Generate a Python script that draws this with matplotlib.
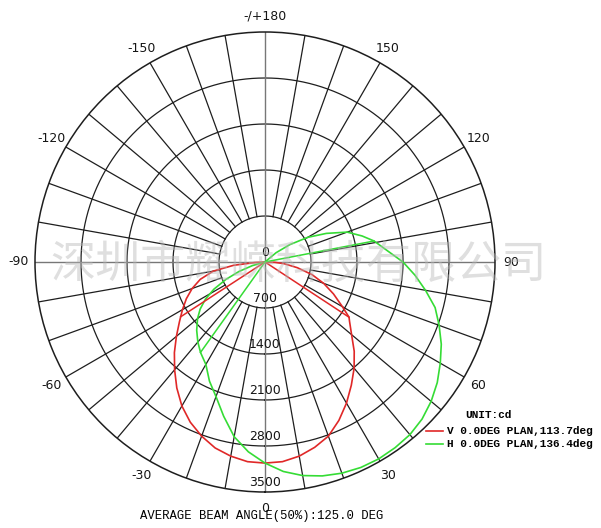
import numpy as np
import matplotlib
matplotlib.use("Agg")
import matplotlib.pyplot as plt
from matplotlib.lines import Line2D

# V plane (red), angle in deg -> intensity in cd
v_angles = [-90, -87, -84, -80, -75, -70, -65, -60, -57, -55, -50, -45, -40, -35, -30, -25, -20,
            -15, -10, -5, 0, 5, 10, 15, 20, 25, 30, 35, 40, 45, 50, 55, 56.7, 60, 65, 70, 75,
            80, 85, 88, 90]
v_values = [0, 150, 480, 800, 1020, 1180, 1320, 1450, 1530, 1590, 1760, 1950, 2140, 2340, 2530,
            2690, 2820, 2930, 3000, 3050, 3060, 3050, 3000, 2920, 2820, 2660, 2480, 2290, 2110,
            1920, 1720, 1570, 1530, 1360, 1150, 950, 740, 500, 290, 150, 0]

# H plane (green)
h_angles = [-78, -74, -70, -66, -62, -58, -54, -50, -45, -40, -35.5, -30, -25, -20, -15, -10, -5,
            0, 5, 10, 15, 20, 25, 30, 35, 40, 45, 50, 55, 60, 65, 70, 75, 80, 85, 90, 95,
            100.9, 105, 110, 115, 120, 125, 130, 135]
h_values = [0, 200, 420, 650, 880, 1070, 1220, 1340, 1470, 1590, 1690, 1800, 2000, 2180, 2430,
            2700, 2900, 3060, 3200, 3300, 3370, 3420, 3450, 3460, 3450, 3430, 3380, 3300, 3200,
            3080, 2960, 2820, 2680, 2480, 2290, 2100, 1880, 1690, 1530, 1330, 1030, 750, 460,
            220, 0]

# 50% beam edges drawn as radial lines
v_edges = [-57, 56.7]
v_edge_vals = [1530, 1530]
h_edges = [-35.5, 100.9]
h_edge_vals = [1690, 1690]

ring_values = [700, 1400, 2100, 2800, 3500]
angle_ticks = [0, 30, 60, 90, 120, 150, 180, -150, -120, -90, -60, -30]
angle_labels = ["0", "30", "60", "90", "120", "150", "-/+180", "-150", "-120", "-90", "-60", "-30"]

legend_rows = ["V 0.0DEG PLAN,113.7deg", "H 0.0DEG PLAN,136.4deg"]
legend_colors = ["#e02828", "#35dc35"]

W, H = 601, 528
cx, cy, R = 265, 262, 230

fig = plt.figure(figsize=(W / 100, H / 100), dpi=100)
ax = fig.add_axes([(cx - R) / W, (H - cy - R) / H, 2 * R / W, 2 * R / H], projection="polar")
ax.set_theta_zero_location("S")
ax.set_theta_direction(1)
ax.set_ylim(0, ring_values[-1])
ax.grid(False)
ax.set_xticks([])
ax.set_yticks([])
ax.spines["polar"].set_color("#1e1e1e")
ax.spines["polar"].set_linewidth(1.1)

grid_c = "#1e1e1e"
tt = np.linspace(0, 2 * np.pi, 721)
for r in ring_values[:-1]:
    ax.plot(tt, np.full_like(tt, r), color=grid_c, lw=0.9, zorder=1)

for a in range(0, 360, 10):
    t = np.radians(a)
    if a % 90 == 0:
        ax.plot([t, t], [0, ring_values[-1]], color="#777777", lw=1.0, zorder=1)
    else:
        ax.plot([t, t], [ring_values[0], ring_values[-1]], color=grid_c, lw=0.9, zorder=1)

# ring labels
ax.text(np.pi, 150, "0", ha="center", va="center", fontsize=9, color="#151515")
for r in ring_values:
    ax.text(0, r - 150, str(r), ha="center", va="center", fontsize=9, color="#151515")

# angle labels
for a, lab in zip(angle_ticks, angle_labels):
    ax.text(np.radians(a), 3745, lab, ha="center", va="center", fontsize=9, color="#151515")

# curves
ax.plot(np.radians(v_angles), v_values, color=legend_colors[0], lw=1.2, zorder=3)
ax.plot(np.radians(h_angles), h_values, color=legend_colors[1], lw=1.2, zorder=3)
for a, v in zip(v_edges, v_edge_vals):
    ax.plot([np.radians(a)] * 2, [0, v], color=legend_colors[0], lw=1.1, zorder=3)
for a, v in zip(h_edges, h_edge_vals):
    ax.plot([np.radians(a)] * 2, [0, v], color=legend_colors[1], lw=1.1, zorder=3)

# watermark
fig.text(299 / W, (H - 265) / H, "深圳市耀嵘科技有限公司", ha="center", va="center",
         fontsize=32.5, color="#b8b8b8", alpha=0.45, family=["Noto Sans CJK SC"], zorder=10)

# legend
mono = "Liberation Mono"
fig.text(465 / W, (H - 415) / H, "UNIT:cd", ha="left", va="center", fontsize=8,
         family=mono, weight="bold")
for i, (lab, col) in enumerate(zip(legend_rows, legend_colors)):
    y = (H - (431 + 13 * i)) / H
    fig.add_artist(Line2D([426 / W, 443 / W], [y, y], color=col, lw=1.2,
                          transform=fig.transFigure))
    fig.text(447 / W, y, lab, ha="left", va="center", fontsize=8, family=mono, weight="bold")

fig.text(140 / W, (H - 516) / H, "AVERAGE BEAM ANGLE(50%):125.0 DEG", ha="left", va="center",
         fontsize=8.8, family=mono)

fig.savefig("out.png", dpi=100, facecolor="white")
